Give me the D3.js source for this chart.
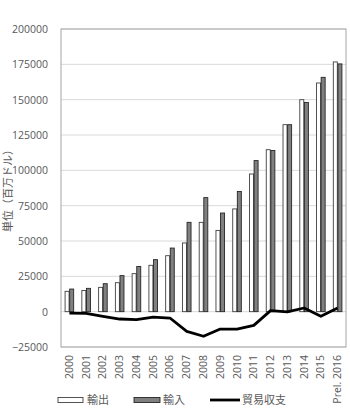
<!DOCTYPE html>
<html>
<head>
<meta charset="utf-8">
<script src="https://cdn.jsdelivr.net/npm/d3@7"></script>
<style>
  body { margin: 0; background: #fff; }
  svg { display: block; font-family: "Noto Sans CJK JP", "Noto Sans", sans-serif; }
</style>
</head>
<body>
<div id="chart"></div>
<script>
// values (million USD)
const years = ["2000", "2001", "2002", "2003", "2004", "2005", "2006", "2007", "2008",
               "2009", "2010", "2011", "2012", "2013", "2014", "2015", "Prel. 2016"];
const exportsV = [14400, 15000, 17200, 20500, 26900, 32800, 39600, 48600, 63200,
                  57500, 72700, 97400, 114600, 132300, 150000, 161800, 176700];
const importsV = [16000, 16500, 19800, 25500, 32000, 36800, 45000, 63200, 80700,
                  69800, 85000, 106900, 114000, 132300, 148000, 165800, 175300];
const balanceV = [-1000, -1200, -3300, -5200, -5700, -3800, -4500, -13900, -17400,
                  -12300, -12300, -9700, 700, -200, 2600, -3300, 2600];
const yTicks = [-25000, 0, 25000, 50000, 75000, 100000, 125000, 150000, 175000, 200000];

const W = 350, H = 412;
const m = { top: 29, left: 61, right: 4, bottom: 65 };
const iw = W - m.left - m.right, ih = H - m.top - m.bottom;

const svg = d3.select("#chart").append("svg").attr("width", W).attr("height", H);
const g = svg.append("g").attr("transform", `translate(${m.left},${m.top})`);

const x = d3.scaleBand().domain(years).range([0, iw]);
const y = d3.scaleLinear().domain([-25000, 200000]).range([ih, 0]);

// gridlines
g.selectAll("line.grid").data(yTicks).join("line")
  .attr("class", "grid")
  .attr("x1", 0).attr("x2", iw)
  .attr("y1", d => y(d)).attr("y2", d => y(d))
  .attr("stroke", "#d9d9d9").attr("stroke-width", 1);

// plot border
g.append("rect").attr("x", 0).attr("y", 0).attr("width", iw).attr("height", ih)
  .attr("fill", "none").attr("stroke", "#a6a6a6").attr("stroke-width", 1);

// y axis labels
const yAxis = g.append("g")
  .call(d3.axisLeft(y).tickValues(yTicks).tickFormat(d3.format("d")).tickSize(0).tickPadding(13));
yAxis.select(".domain").remove();
yAxis.selectAll("text").attr("fill", "#595959").style("font-size", "10.5px")
  .style("font-family", "'Open Sans', sans-serif");

// bars
const bw = 4;
g.selectAll("rect.exp").data(years).join("rect")
  .attr("class", "exp")
  .attr("x", (d) => x(d) + x.bandwidth() / 2 - bw - 0.3)
  .attr("width", bw)
  .attr("y", (d, i) => y(exportsV[i]))
  .attr("height", (d, i) => y(0) - y(exportsV[i]))
  .attr("fill", "#fff").attr("stroke", "#404040").attr("stroke-width", 0.9);

g.selectAll("rect.imp").data(years).join("rect")
  .attr("class", "imp")
  .attr("x", (d) => x(d) + x.bandwidth() / 2 + 0.3)
  .attr("width", bw)
  .attr("y", (d, i) => y(importsV[i]))
  .attr("height", (d, i) => y(0) - y(importsV[i]))
  .attr("fill", "#808080").attr("stroke", "#262626").attr("stroke-width", 0.9);

// trade balance line
const line = d3.line()
  .x((d, i) => x(years[i]) + x.bandwidth() / 2)
  .y(d => y(d));
g.append("path").datum(balanceV)
  .attr("d", line)
  .attr("fill", "none").attr("stroke", "#000").attr("stroke-width", 2.8)
  .attr("stroke-linejoin", "round");

// x labels (rotated)
g.selectAll("text.xl").data(years).join("text")
  .attr("class", "xl")
  .attr("transform", d => `translate(${x(d) + x.bandwidth() / 2 + 3.5},${ih + 8}) rotate(-90)`)
  .attr("text-anchor", "end")
  .attr("fill", "#595959")
  .style("font-size", "10.5px")
  .style("font-family", "'Open Sans', sans-serif")
  .text(d => d);

// y title
svg.append("text")
  .attr("transform", `translate(12,${m.top + ih / 2}) rotate(-90)`)
  .attr("text-anchor", "middle")
  .attr("fill", "#595959")
  .style("font-size", "11px")
  .text("単位（百万ドル）");

// legend
const ly = 400;
const leg = svg.append("g");
leg.append("rect").attr("x", 58).attr("y", ly - 2.5).attr("width", 25).attr("height", 5)
  .attr("fill", "#fff").attr("stroke", "#404040").attr("stroke-width", 0.9);
leg.append("text").attr("x", 87).attr("y", ly + 4).attr("fill", "#595959")
  .style("font-size", "11px").text("輸出");
leg.append("rect").attr("x", 134).attr("y", ly - 2.5).attr("width", 26).attr("height", 5)
  .attr("fill", "#808080").attr("stroke", "#262626").attr("stroke-width", 0.9);
leg.append("text").attr("x", 163).attr("y", ly + 4).attr("fill", "#595959")
  .style("font-size", "11px").text("輸入");
leg.append("line").attr("x1", 210).attr("x2", 240).attr("y1", ly).attr("y2", ly)
  .attr("stroke", "#000").attr("stroke-width", 2.8);
leg.append("text").attr("x", 242).attr("y", ly + 4).attr("fill", "#595959")
  .style("font-size", "11px").text("貿易収支");
</script>
</body>
</html>
